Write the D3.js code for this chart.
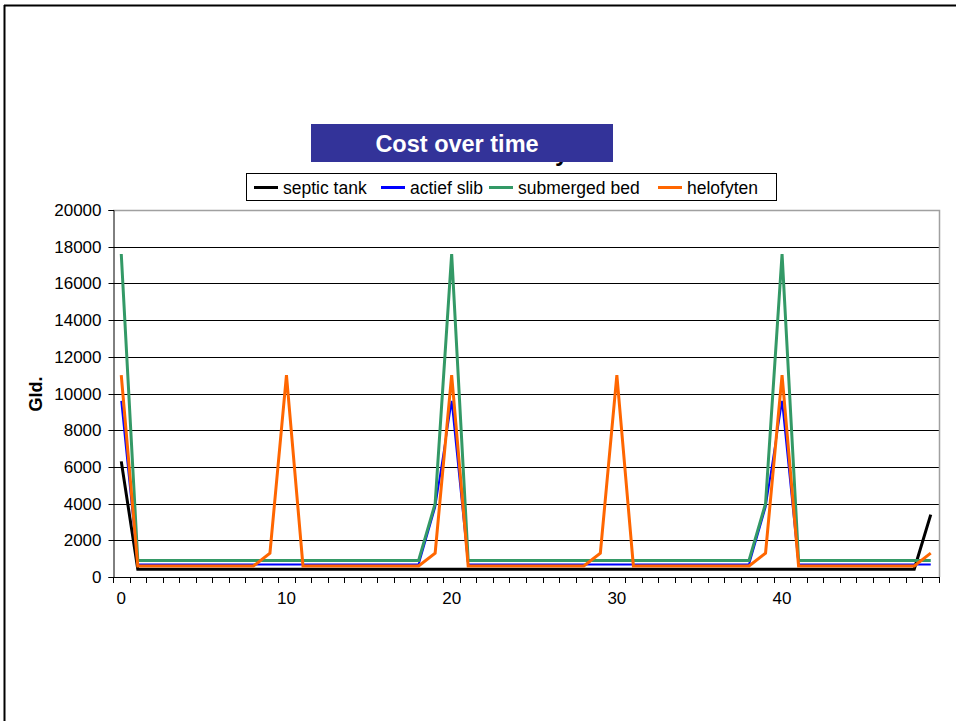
<!DOCTYPE html>
<html>
<head>
<meta charset="utf-8">
<script src="https://cdn.jsdelivr.net/npm/d3@7"></script>
<style>
  html, body { margin: 0; padding: 0; background: #fff; }
  svg { display: block; font-family: "Liberation Sans", Arial, sans-serif; }
</style>
</head>
<body>
<svg id="chart" width="956" height="721"></svg>
<script>
// Years 0..49
const years = d3.range(0, 50);

// Yearly cost per system (Gld.)
const septicTank = [
  6300, 420, 420, 420, 420, 420, 420, 420, 420, 420,
  420, 420, 420, 420, 420, 420, 420, 420, 420, 420,
  420, 420, 420, 420, 420, 420, 420, 420, 420, 420,
  420, 420, 420, 420, 420, 420, 420, 420, 420, 420,
  420, 420, 420, 420, 420, 420, 420, 420, 420, 3400
];
const actiefSlib = [
  9600, 680, 680, 680, 680, 680, 680, 680, 680, 680,
  680, 680, 680, 680, 680, 680, 680, 680, 680, 3800,
  9600, 680, 680, 680, 680, 680, 680, 680, 680, 680,
  680, 680, 680, 680, 680, 680, 680, 680, 680, 3800,
  9600, 680, 680, 680, 680, 680, 680, 680, 680, 680
];
const submergedBed = [
  17600, 900, 900, 900, 900, 900, 900, 900, 900, 900,
  900, 900, 900, 900, 900, 900, 900, 900, 900, 4000,
  17600, 900, 900, 900, 900, 900, 900, 900, 900, 900,
  900, 900, 900, 900, 900, 900, 900, 900, 900, 4000,
  17600, 900, 900, 900, 900, 900, 900, 900, 900, 900
];
const helofyten = [
  11000, 600, 600, 600, 600, 600, 600, 600, 600, 1300,
  11000, 600, 600, 600, 600, 600, 600, 600, 600, 1300,
  11000, 600, 600, 600, 600, 600, 600, 600, 600, 1300,
  11000, 600, 600, 600, 600, 600, 600, 600, 600, 1300,
  11000, 600, 600, 600, 600, 600, 600, 600, 600, 1300
];

const seriesNames = ["septic tank", "actief slib", "submerged bed", "helofyten"];
const seriesColors = ["#000000", "#0000ff", "#339966", "#ff6600"];
const seriesWidths = [3, 2, 3, 3];
const seriesValues = [septicTank, actiefSlib, submergedBed, helofyten];

const yTicks = d3.range(0, 20001, 2000);
const xLabels = [0, 10, 20, 30, 40];

const titleText = "Cost over time";
const yTitle = "Gld.";

const svg = d3.select("#chart");

// outer frame
svg.append("line").attr("x1", 4).attr("x2", 956).attr("y1", 5.5).attr("y2", 5.5)
  .attr("stroke", "#000").attr("stroke-width", 2);
svg.append("line").attr("x1", 4.5).attr("x2", 4.5).attr("y1", 5).attr("y2", 721)
  .attr("stroke", "#000").attr("stroke-width", 2);

const plot = { left: 113, right: 939, top: 210, bottom: 577 };

const x = d3.scaleBand().domain(years).range([plot.left, plot.right]).padding(0);
const y = d3.scaleLinear().domain([0, 20000]).range([plot.bottom, plot.top]);
const cx = d => x(d) + x.bandwidth() / 2;

// horizontal gridlines
svg.append("g").selectAll("line")
  .data(yTicks.filter(t => t > 0 && t < 20000))
  .join("line")
  .attr("x1", plot.left).attr("x2", plot.right)
  .attr("y1", d => Math.round(y(d)) + 0.5).attr("y2", d => Math.round(y(d)) + 0.5)
  .attr("stroke", "#000").attr("stroke-width", 1);

// plot area border (top/right)
svg.append("path")
  .attr("d", `M${plot.left},${plot.top + 0.5}H${plot.right + 0.5}V${plot.bottom}`)
  .attr("fill", "none").attr("stroke", "#a0a0a0").attr("stroke-width", 1.5);

// y axis
const yAxis = d3.axisLeft(y).tickValues(yTicks).tickSize(5).tickPadding(7).tickFormat(d3.format("d"));
const gy = svg.append("g").attr("transform", `translate(${plot.left + 0.5},0)`).call(yAxis);
gy.select(".domain").attr("stroke", "#000");
gy.selectAll(".tick line").attr("stroke", "#000");
gy.selectAll("text").attr("font-size", 17).attr("fill", "#000")
  .attr("font-family", "Liberation Sans, Arial, sans-serif");
gy.selectAll(".tick").attr("transform", d => `translate(0,${Math.round(y(d)) + 0.5})`);

// x axis: ticks on category boundaries, labels every 10 years
const bounds = d3.range(0, years.length + 1).map(i => plot.left + i * x.bandwidth());
const gx = svg.append("g");
gx.append("line").attr("x1", plot.left).attr("x2", plot.right + 0.5)
  .attr("y1", plot.bottom + 0.5).attr("y2", plot.bottom + 0.5).attr("stroke", "#000");
gx.selectAll("line.tk").data(bounds).join("line").attr("class", "tk")
  .attr("x1", d => Math.round(d) + 0.5).attr("x2", d => Math.round(d) + 0.5)
  .attr("y1", plot.bottom).attr("y2", plot.bottom + 6).attr("stroke", "#000");
gx.selectAll("text").data(xLabels).join("text")
  .attr("x", d => cx(d)).attr("y", plot.bottom + 27)
  .attr("text-anchor", "middle").attr("font-size", 17).attr("fill", "#000")
  .text(d => d);

// y axis title
svg.append("text")
  .attr("transform", "translate(42,394) rotate(-90)")
  .attr("text-anchor", "middle").attr("font-size", 18).attr("font-weight", "bold")
  .text(yTitle);

// series lines
const line = d3.line().x((d, i) => cx(years[i])).y(d => y(d));
seriesValues.forEach((vals, k) => {
  svg.append("path")
    .datum(vals)
    .attr("d", line)
    .attr("fill", "none")
    .attr("stroke", seriesColors[k])
    .attr("stroke-width", seriesWidths[k])
    .attr("stroke-linejoin", "miter");
});

// chart title: black heading partly covered by a banner
svg.append("text")
  .attr("x", 555).attr("y", 161)
  .attr("font-size", 24).attr("font-weight", "bold").attr("fill", "#000")
  .text("y");
svg.append("rect").attr("x", 311).attr("y", 124).attr("width", 302).attr("height", 38)
  .attr("fill", "#333399");
svg.append("text")
  .attr("x", 457).attr("y", 152)
  .attr("text-anchor", "middle").attr("font-size", 23.5).attr("font-weight", "bold").attr("fill", "#fff")
  .text(titleText);

// legend
const legend = svg.append("g");
legend.append("rect").attr("x", 246.5).attr("y", 173.5).attr("width", 530).attr("height", 27)
  .attr("fill", "#fff").attr("stroke", "#000").attr("stroke-width", 1);
const legendX = [254, 381, 489, 658];
seriesNames.forEach((name, k) => {
  legend.append("line")
    .attr("x1", legendX[k]).attr("x2", legendX[k] + 24)
    .attr("y1", 187.5).attr("y2", 187.5)
    .attr("stroke", seriesColors[k]).attr("stroke-width", 3);
  legend.append("text")
    .attr("x", legendX[k] + 29).attr("y", 193.5)
    .attr("font-size", 17.5).attr("fill", "#000")
    .text(name);
});
</script>
</body>
</html>
